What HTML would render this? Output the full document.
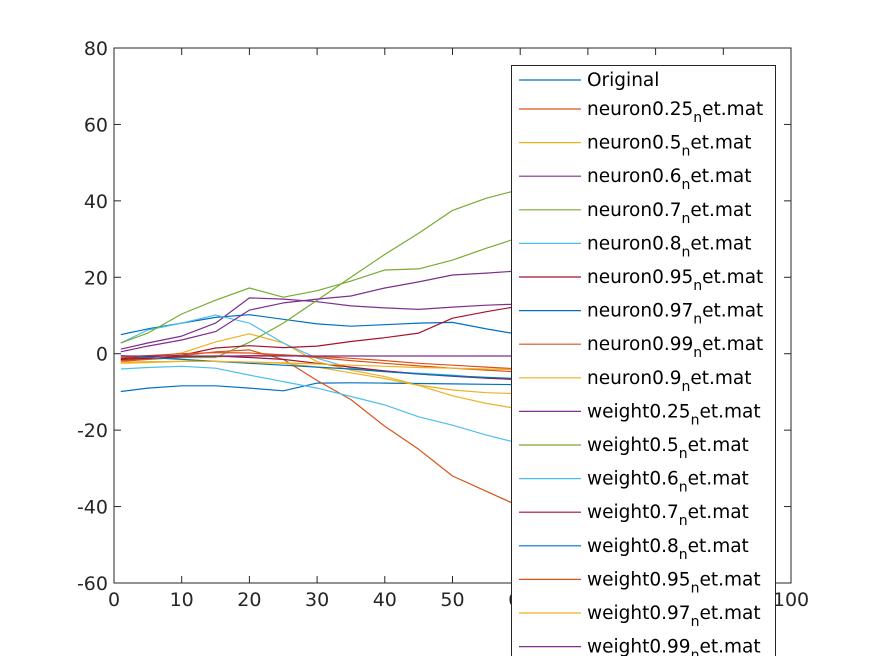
<!DOCTYPE html>
<html><head><meta charset="utf-8"><style>
html,body{margin:0;padding:0;background:#fff;}
svg{display:block;font-family:"DejaVu Sans","Liberation Sans",sans-serif;}
</style></head><body>
<svg id="chart" width="875" height="656" viewBox="0 0 875 656" xmlns="http://www.w3.org/2000/svg">
<rect x="0" y="0" width="875" height="656" fill="#fff"/>
<g id="axes"></g>
<g id="series"></g>
<g id="frame"></g>
<g id="legend"></g>
</svg>
<script>
const xs = [1,5,10,15,20,25,30,35,40,45,50,55,60];
const seriesNames = ["Original","neuron0.25","neuron0.5","neuron0.6","neuron0.7","neuron0.8","neuron0.95","neuron0.97","neuron0.99","neuron0.9","weight0.25","weight0.5","weight0.6","weight0.7","weight0.8","weight0.95","weight0.97","weight0.99"];
const sOriginal = [5,6.5,8,9.5,10.2,9,7.8,7.2,7.6,8,8.2,6.5,5];
const sN025 = [-1.8,-1.5,-1,-0.8,-0.5,-0.3,-0.7,-1.2,-1.8,-2.5,-3,-3.5,-4];
const sN05 = [-1.5,-1,0.2,3.1,5.2,2.8,-2.1,-4.3,-6,-8.2,-9.5,-10.2,-10.5];
const sN06 = [1.2,2.8,4.6,8,14.6,14.3,13.6,12.5,12,11.6,12.2,12.7,13];
const sN07 = [-1.5,-1.2,-1,-1,3,8,14,20,26,31.5,37.5,40.7,43];
const sN08 = [2.8,6.2,8,10.1,8,2.8,-1.2,-3.7,-4.7,-5.1,-5.6,-6.4,-6.8];
const sN095 = [-1.2,-0.8,-0.4,1.5,2.1,1.6,2,3.2,4.2,5.4,9.3,11,12.5];
const sN097 = [-9.9,-9,-8.4,-8.4,-9,-9.7,-7.7,-7.6,-7.7,-7.8,-7.9,-8,-8.1];
const sN099 = [-2,-1.5,-0.5,0.5,1,-1.5,-7,-12,-19,-25,-32,-36,-40];
const sN09 = [-2.5,-2.3,-2,-2,-2.2,-2.5,-3.5,-5,-6.5,-8.3,-11,-13,-14.5];
const sW025 = [0.5,2,3.6,5.8,11.4,13.3,14.3,15.1,17.2,18.8,20.6,21.1,21.7];
const sW05 = [2.8,5.4,10.4,14,17.2,14.8,16.5,19,21.9,22.2,24.5,27.6,30.5];
const sW06 = [-4,-3.6,-3.3,-3.8,-5.6,-7.3,-9,-11.2,-13.4,-16.5,-18.7,-21.3,-23.5];
const sW07 = [-1.5,-1.2,-0.8,-0.6,-1,-1.5,-2.5,-3.5,-4.5,-5.3,-5.9,-6.4,-6.8];
const sW08 = [-0.5,-1,-1.5,-2,-2.5,-3,-3.5,-4,-4.7,-5.3,-5.8,-6.2,-6.5];
const sW095 = [-1,-0.5,0,0.3,0.2,-0.3,-1,-1.8,-2.5,-3.2,-3.8,-4.3,-4.8];
const sW097 = [-2.2,-2.1,-2,-2,-2.2,-2.4,-2.7,-3,-3.3,-3.6,-3.8,-4,-4.2];
const sW099 = [-0.6,-0.6,-0.6,-0.6,-0.6,-0.6,-0.6,-0.6,-0.6,-0.6,-0.6,-0.6,-0.6];
const xTicks = [0,10,20,30,40,50,60,70,80,90,100];
const yTicks = [-60,-40,-20,0,20,40,60,80];

const allSeries = [sOriginal,sN025,sN05,sN06,sN07,sN08,sN095,sN097,sN099,sN09,sW025,sW05,sW06,sW07,sW08,sW095,sW097,sW099];
const palette = ["#0072BD","#D95319","#EDB120","#7E2F8E","#77AC30","#4DBEEE","#A2142F"];
const L=114,R=791,T=48,B=583;
const xS = v => L + (v-0)/(100-0)*(R-L);
const yS = v => B - (v-(-60))/(80-(-60))*(B-T);
const NS="http://www.w3.org/2000/svg";
function mk(tag, attrs, parent){const e=document.createElementNS(NS,tag);for(const k in attrs)e.setAttribute(k,attrs[k]);parent.appendChild(e);return e;}

const axes=document.getElementById('axes');
const frame=document.getElementById('frame');
xTicks.forEach(t=>{
  const x=xS(t);
  const a=mk('line',{x1:x,y1:B,x2:x,y2:B-7,stroke:'#262626','stroke-width':1},frame);
  
  
  const b=mk('line',{x1:x,y1:T,x2:x,y2:T+7,stroke:'#262626','stroke-width':1},frame);
  
  
  const tx=mk('text',{x:x,y:B+23,'text-anchor':'middle','font-size':19,fill:'#262626'},axes);
  tx.textContent=t;
  
  
});
yTicks.forEach(t=>{
  const y=yS(t);
  const a=mk('line',{x1:L,y1:y,x2:L+7,y2:y,stroke:'#262626','stroke-width':1},frame);
  
  
  const b=mk('line',{x1:R,y1:y,x2:R-7,y2:y,stroke:'#262626','stroke-width':1},frame);
  
  
  const tx=mk('text',{x:L-6,y:y+7,'text-anchor':'end','font-size':19,fill:'#262626'},axes);
  tx.textContent=t;
  
  
});
const box=mk('rect',{x:L,y:T,width:R-L,height:B-T,fill:'none',stroke:'#262626','stroke-width':1},frame);



const sg=document.getElementById('series');
allSeries.forEach((s,i)=>{
  const pts=s.map((v,j)=>xS(xs[j]).toFixed(1)+','+yS(v).toFixed(1)).join(' ');
  const p=mk('polyline',{points:pts,fill:'none',stroke:palette[i%7],'stroke-width':1.2,'stroke-linejoin':'round'},sg);
  
  
});

const lg=document.getElementById('legend');
const lbox=mk('rect',{x:511.5,y:65.5,width:264,height:600,fill:'#fff',stroke:'#262626','stroke-width':1},lg);


seriesNames.forEach((n,i)=>{
  const y = i===0 ? 80 : 109 + (i-1)*33.6;
  const ln=mk('line',{x1:519,y1:y,x2:581,y2:y,stroke:palette[i%7],'stroke-width':1.2},lg);
  
  
  const t=mk('text',{x:587,y:y+6,'font-size':18.5,fill:'#000'},lg);
  
  
  if(i===0){t.textContent=n;}
  else{
    const a=mk('tspan',{},t);a.textContent=n;
    const b=mk('tspan',{dy:7,'font-size':14},t);b.textContent='n';
    const c=mk('tspan',{dy:-7},t);c.textContent='et.mat';
  }
});
</script>
</body></html>
